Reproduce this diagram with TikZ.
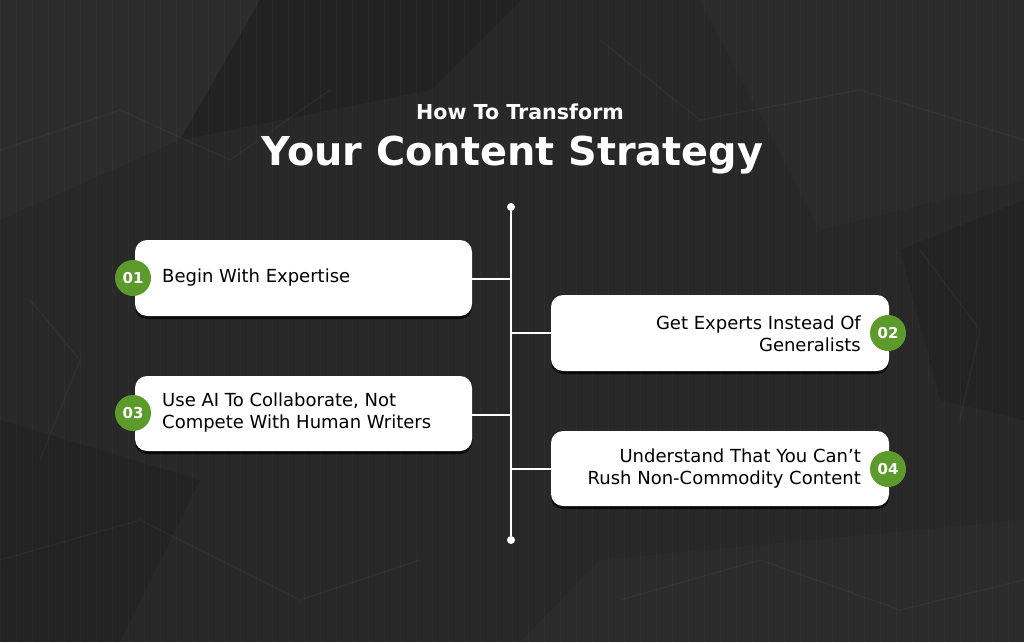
\documentclass[tikz,border=0pt]{standalone}
\usepackage{fontspec}
\setmainfont{DejaVu Sans}
\usetikzlibrary{shadows}
\definecolor{bgdark}{HTML}{282828}
\definecolor{bgmid}{HTML}{353535}
\definecolor{stepgreen}{HTML}{5C9A2B}
\tikzset{
  card/.style={fill=white, rounded corners=12pt, drop shadow={shadow xshift=0pt, shadow yshift=-3pt, opacity=0.8, fill=black}},
  badge/.style={circle, fill=stepgreen, minimum size=36pt, inner sep=0pt, text=white, font=\fontsize{15}{15}\selectfont\bfseries},
  cardtext/.style={font=\fontsize{18}{22}\selectfont, text=black, inner sep=0pt},
  link/.style={draw=white, line width=1.2pt},
  enddot/.style={circle, fill=white, minimum size=8pt, inner sep=0pt},
  crease/.style={draw=white, opacity=0.035, line width=1.5pt}
}
\begin{document}
\begin{tikzpicture}[x=1pt,y=-1pt]
\useasboundingbox (0,0) rectangle (1024,642);
\fill[bgdark] (0,0) rectangle (1024,642);
% subtle crumpled paper facets
\fill[bgmid, opacity=0.35] (0,0) -- (260,0) -- (180,140) -- (0,220) -- cycle;
\fill[black, opacity=0.15] (260,0) -- (520,0) -- (430,90) -- (180,140) -- cycle;
\fill[bgmid, opacity=0.3] (700,0) -- (1024,0) -- (1024,180) -- (820,230) -- cycle;
\fill[black, opacity=0.12] (0,420) -- (200,480) -- (120,642) -- (0,642) -- cycle;
\fill[bgmid, opacity=0.3] (600,560) -- (1024,520) -- (1024,642) -- (520,642) -- cycle;
\fill[black, opacity=0.12] (900,250) -- (1024,200) -- (1024,420) -- (940,400) -- cycle;
% creases
\draw[crease] (0,150) -- (120,110) -- (230,160) -- (330,90);
\draw[crease] (600,40) -- (700,120) -- (860,90) -- (1024,140);
\draw[crease] (0,560) -- (140,520) -- (300,600) -- (420,560);
\draw[crease] (620,600) -- (760,560) -- (900,610) -- (1024,580);
\draw[crease] (920,250) -- (980,330) -- (960,420);
\draw[crease] (30,300) -- (80,360) -- (40,460);
% faint grid
\draw[white, opacity=0.03, line width=0.5pt, step=16] (0,0) grid (1024,642);
% title
\node[text=white, font=\fontsize{20.6}{21}\selectfont\bfseries, anchor=base] (t1) at (520,119) {How To Transform};
\node[text=white, font=\fontsize{39.8}{40}\selectfont\bfseries, anchor=base] (t2) at (512.5,165) {Your Content Strategy};
% spine
\node[enddot] (top) at (511,207) {};
\node[enddot] (bot) at (511,540) {};
\draw[link] (top) -- (bot);
% cards
\node[card, minimum width=337pt, minimum height=76pt] (c1) at (303.5,278) {};
\node[card, minimum width=338pt, minimum height=76pt] (c2) at (720,333) {};
\node[card, minimum width=337pt, minimum height=75pt] (c3) at (303.5,413.5) {};
\node[card, minimum width=338pt, minimum height=75pt] (c4) at (720,468.5) {};
% connectors
\coordinate (j1) at (511,279);
\coordinate (j2) at (511,333);
\coordinate (j3) at (511,415);
\coordinate (j4) at (511,469);
\draw[link] (c1.east |- j1) -- (j1);
\draw[link] (j2) -- (c2.west |- j2);
\draw[link] (c3.east |- j3) -- (j3);
\draw[link] (j4) -- (c4.west |- j4);
% badges
\node[badge] (b1) at (133,278) {01};
\node[badge] (b2) at (888,333) {02};
\node[badge] (b3) at (133,413) {03};
\node[badge] (b4) at (888,469) {04};
% texts
\node[cardtext, anchor=west] (x1) at (162,278) {Begin With Expertise};
\node[cardtext, anchor=east, align=right] (x2) at (861,334) {Get Experts Instead Of\\Generalists};
\node[cardtext, anchor=west, align=left] (x3) at (162,413) {Use AI To Collaborate, Not\\Compete With Human Writers};
\node[cardtext, anchor=east, align=right] (x4) at (861,469) {Understand That You Can’t\\Rush Non-Commodity Content};
\end{tikzpicture}
\end{document}
